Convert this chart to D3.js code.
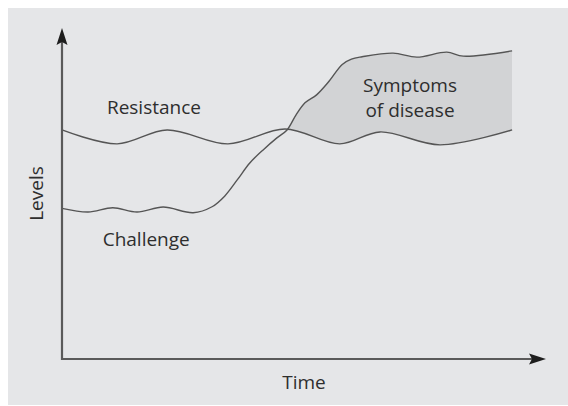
<!doctype html>
<html>
<head>
    <script src="https://d3js.org/d3.v7.min.js"></script>
</head>
<style>
    body { margin: 0; background: #fff; }
    svg text {
        fill: #2e2e2e;
        font: 19px "Open Sans", sans-serif;
        text-anchor: middle;
    }
</style>
<body>
    <script>
        // time (0..100 along the x axis) and levels (0..100 along the y axis)
        var resistanceTime  = [0, 11.4, 21.7, 34.3, 46.1, 57.4, 65.7, 78.1, 93.0];
        var resistanceLevel = [69.2, 65.0, 69.2, 65.0, 69.5, 65.0, 68.6, 64.7, 69.2];

        var challengeTime  = [0, 5.4, 10.5, 15.5, 20.9, 27.1, 31.0, 33.6, 36.2, 38.8, 41.5, 44.4, 46.5,
                              48.3, 50.2, 52.6, 55.0, 57.9, 59.8, 62.0, 68.4, 73.3, 79.5, 82.9, 93.0];
        var challengeLevel = [45.5, 44.4, 45.7, 44.4, 45.9, 44.2, 46.0, 49.2, 54.1, 59.2, 63.1, 66.8, 69.2,
                              73.6, 77.4, 79.8, 83.6, 89.0, 90.6, 91.3, 92.4, 91.2, 92.7, 91.5, 93.1];

        var axisLabels = ["Time", "Levels"];
        var curveLabels = ["Resistance", "Challenge"];
        var regionLabel = ["Symptoms", "of disease"];

        var width = 568,
            height = 406;

        var x = d3.scaleLinear().domain([0, 100]).range([62, 546]);
        var y = d3.scaleLinear().domain([0, 100]).range([359, 28]);

        var resistance = resistanceTime.map(function (t, i) { return [t, resistanceLevel[i]]; });
        var challenge = challengeTime.map(function (t, i) { return [t, challengeLevel[i]]; });

        var svg = d3.select("body")
                  .append("svg")
                  .attr("width", width)
                  .attr("height", height);

        // grey panel
        svg.append("rect")
           .attr("x", 8).attr("y", 8)
           .attr("width", width - 8).attr("height", height - 9)
           .attr("fill", "#e5e6e8");

        var curve = d3.curveCatmullRom.alpha(0.5);

        var line = d3.line()
                   .x(function (d) { return x(d[0]); })
                   .y(function (d) { return y(d[1]); })
                   .curve(curve);

        // region above resistance, used to clip the area under challenge
        var aboveResistance = d3.area()
                   .x(function (d) { return x(d[0]); })
                   .y0(function (d) { return y(d[1]); })
                   .y1(y(100))
                   .curve(curve);

        var belowChallenge = d3.area()
                   .x(function (d) { return x(d[0]); })
                   .y0(y(0))
                   .y1(function (d) { return y(d[1]); })
                   .curve(curve);

        svg.append("clipPath").attr("id", "above")
           .append("path").attr("d", aboveResistance(resistance));

        svg.append("path")
           .attr("d", belowChallenge(challenge))
           .attr("clip-path", "url(#above)")
           .attr("fill", "#d2d3d5");

        svg.selectAll(".curve")
           .data([resistance, challenge])
           .enter()
           .append("path")
           .attr("class", "curve")
           .attr("d", line)
           .attr("fill", "none")
           .attr("stroke", "#555")
           .attr("stroke-width", 1.4);

        // axes with arrow heads
        svg.append("path")
           .attr("d", "M" + x(0) + "," + (y(100) + 12) + "V" + y(0) + "H" + (x(100) - 12))
           .attr("fill", "none")
           .attr("stroke", "#5a5a5a")
           .attr("stroke-width", 2.2);

        svg.append("path")
           .attr("d", "M" + x(0) + "," + y(100) + "l-5.5,17 l5.5,-3 l5.5,3z")
           .attr("fill", "#1e1e1e");
        svg.append("path")
           .attr("d", "M" + x(100) + "," + y(0) + "l-17,-5.5 l3,5.5 l-3,5.5z")
           .attr("fill", "#1e1e1e");

        // labels
        svg.append("text").attr("x", x(50)).attr("y", 389).text(axisLabels[0]);
        svg.append("text")
           .attr("transform", "translate(43," + y(50) + ") rotate(-90)")
           .text(axisLabels[1]);

        svg.append("text").attr("x", x(19)).attr("y", 114).text(curveLabels[0]);
        svg.append("text").attr("x", x(17.4)).attr("y", 246).text(curveLabels[1]);

        svg.selectAll(".region")
           .data(regionLabel)
           .enter()
           .append("text")
           .attr("class", "region")
           .attr("x", x(71.9))
           .attr("y", function (d, i) { return 92 + i * 25; })
           .text(function (d) { return d; });
    </script>
</body>
</html>
